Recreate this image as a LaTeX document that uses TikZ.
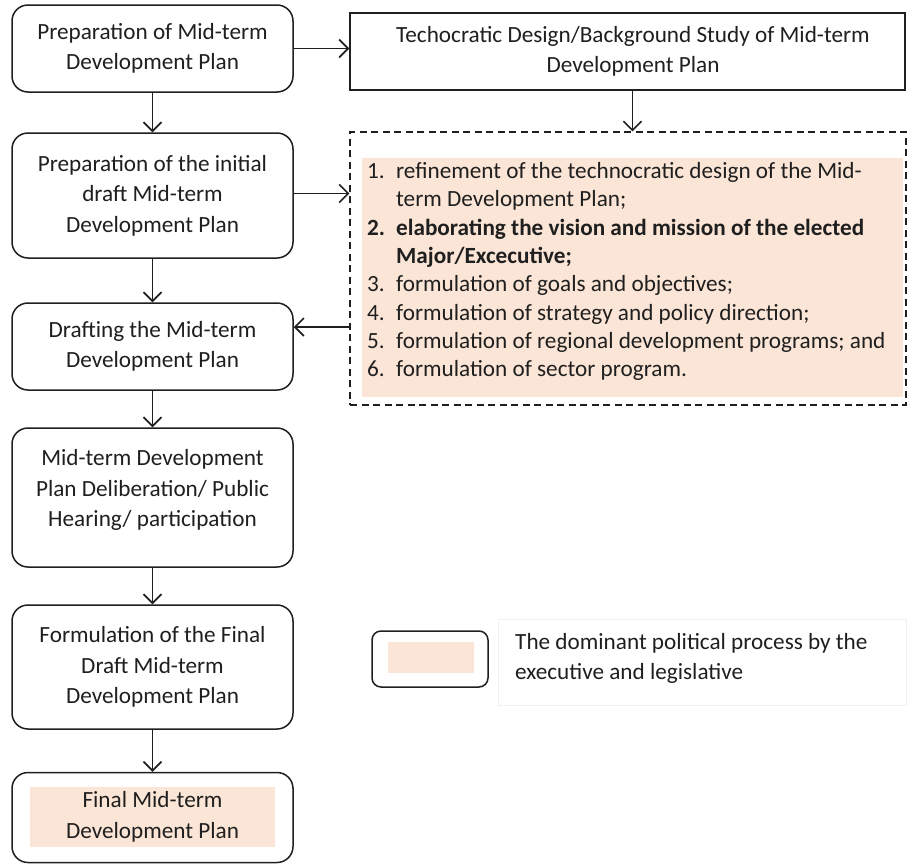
\documentclass[tikz,border=0pt]{standalone}
\usepackage{fontspec}
\setmainfont{Carlito}
\usetikzlibrary{arrows.meta}
\definecolor{peach}{HTML}{FBE5D6}
\definecolor{ink}{HTML}{1F1F1F}
\begin{document}
\begin{tikzpicture}[x=1pt,y=-1pt,
  every node/.style={text=ink},
  flow/.style={draw=ink, line width=1.5pt, rounded corners=16pt, fill=white, inner sep=0pt, align=center,
    font=\fontsize{23.2}{30.5}\selectfont},
  plain/.style={draw=ink, line width=1.5pt, fill=white, inner sep=0pt, align=center,
    font=\fontsize{23.2}{30.5}\selectfont},
  arr/.style={draw=ink, line width=1.6pt, -{Straight Barb[length=9pt,width=18pt,line width=1.6pt]}},
  fillbox/.style={fill=peach, draw=none, inner sep=0pt}
]
\useasboundingbox (0,0) rectangle (908,865);

% left column
\node[flow, minimum width=281pt, minimum height=87pt] (b1) at (152.5,48.5) {Preparation of Mid-term\\Development Plan};
\node[flow, minimum width=281pt, minimum height=125pt] (b3) at (152.5,195.5) {Preparation of the initial\\draft Mid-term\\Development Plan};
\node[flow, minimum width=281pt, minimum height=87pt] (b4) at (152.5,346.5) {Drafting the Mid-term\\Development Plan};
\node[flow, minimum width=281pt, minimum height=139pt] (b5) at (152.5,497.5) {};
\node[inner sep=0pt, align=center, font=\fontsize{23.2}{30.5}\selectfont] (b5t) at (152.5,490) {Mid-term Development\\Plan Deliberation/ Public\\Hearing/ participation};
\node[flow, minimum width=281pt, minimum height=124pt] (b6) at (152.5,667) {Formulation of the Final\\Draft Mid-term\\Development Plan};
\node[flow, minimum width=281pt, minimum height=90pt] (b7) at (152.5,817.5) {};
\node[fillbox, minimum width=245pt, minimum height=60pt, align=center,
  font=\fontsize{23.2}{30.5}\selectfont] (b7t) at (152.5,817) {Final Mid-term\\Development Plan};

% top right
\node[plain, minimum width=555pt, minimum height=77pt] (b2) at (627.5,51.5) {\hspace*{11pt}Techocratic Design/Background Study of Mid-term\\\hspace*{11pt}Development Plan};

% dashed box with list
\node[draw=ink, line width=1.4pt, dash pattern=on 7pt off 4.5pt, minimum width=556pt, minimum height=273pt, inner sep=0pt] (db) at (628,268.5) {};
\node[fillbox, minimum width=541pt, minimum height=239pt] (dbf) at (632.5,277.5) {};
\node[anchor=north west, inner sep=0pt, font=\fontsize{23.2}{28.3}\selectfont] (lst) at (367,158.5) {%
\begin{tabular}{@{}p{29pt}@{}l@{}}
1. & refinement of the technocratic design of the Mid-\\
   & term Development Plan;\\
\textbf{2.} & \textbf{elaborating the vision and mission of the elected}\\
   & \textbf{Major/Excecutive;}\\
3. & formulation of goals and objectives;\\
4. & formulation of strategy and policy direction;\\
5. & formulation of regional development programs; and\\
6. & formulation of sector program.
\end{tabular}};

% legend
\node[draw=black!6, line width=1pt, minimum width=408pt, minimum height=86pt, inner sep=0pt] (lgf) at (702,662.5) {};
\node[draw=ink, line width=1.5pt, rounded corners=9pt, fill=white, minimum width=116pt, minimum height=56pt, inner sep=0pt] (lg) at (430,659) {};
\node[fillbox, minimum width=86pt, minimum height=31pt] (lgi) at (431,657.5) {};
\node[anchor=west, align=left, inner sep=0pt, font=\fontsize{23.2}{30}\selectfont] (lgt) at (515,658) {The dominant political process by the\\executive and legislative};

% connectors
\coordinate (fb) at (350,327);
\draw[arr] (b1.east) -- (b1.east -| b2.west);
\draw[arr] (b1.south) -- (b3.north);
\draw[arr] ([xshift=5pt]b2.south) -- ([xshift=5pt]b2.south |- db.north);
\draw[arr] ([yshift=2pt]b3.east) -- ([yshift=2pt]b3.east -| db.west);
\draw[arr] (fb) -- (fb -| b4.east);
\draw[arr] (b3.south) -- (b4.north);
\draw[arr] (b4.south) -- (b5.north);
\draw[arr] (b5.south) -- (b6.north);
\draw[arr] (b6.south) -- (b7.north);
\end{tikzpicture}
\end{document}
